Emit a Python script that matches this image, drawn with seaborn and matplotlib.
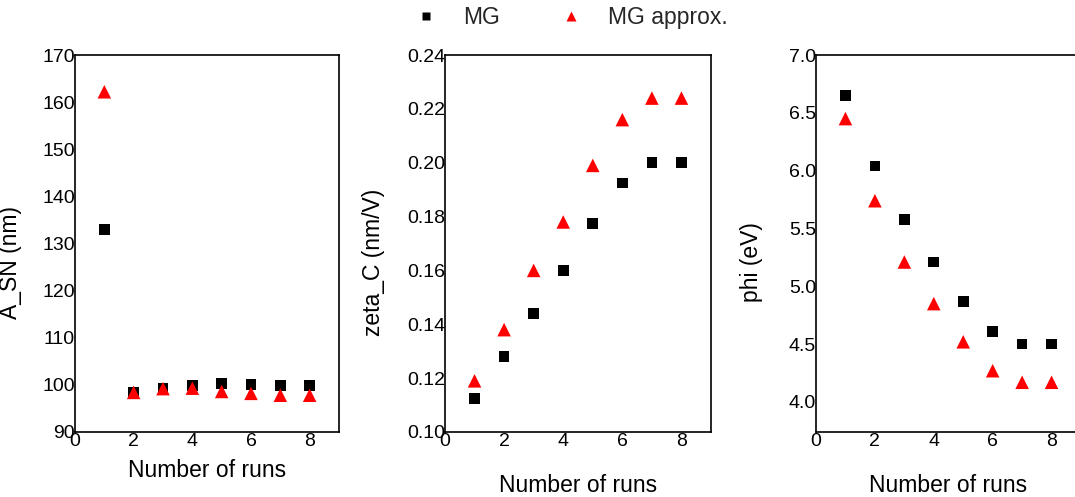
import pandas as pd
import matplotlib.pyplot as plt
import seaborn as sns

# valores
runs = [1, 2, 3, 4, 5, 6, 7, 8]
series = ['MG', 'MG approx.']

a_sn_mg = [132.9, 98.5, 99.3, 99.9, 100.3, 100.1, 99.9, 99.9]
a_sn_approx = [162.2, 98.4, 99.2, 99.3, 98.6, 98.2, 97.8, 97.8]

zeta_mg = [0.1125, 0.128, 0.144, 0.160, 0.1775, 0.1925, 0.200, 0.200]
zeta_approx = [0.119, 0.138, 0.160, 0.178, 0.199, 0.216, 0.224, 0.224]

phi_mg = [6.65, 6.04, 5.58, 5.21, 4.87, 4.61, 4.50, 4.50]
phi_approx = [6.45, 5.74, 5.21, 4.85, 4.52, 4.27, 4.17, 4.17]

ylabels = ['A_SN (nm)', 'zeta_C (nm/V)', 'phi (eV)']
ylims = [(90, 170), (0.10, 0.24), (3.74, 7.0)]
yticks = [list(range(90, 171, 10)),
          [0.10, 0.12, 0.14, 0.16, 0.18, 0.20, 0.22, 0.24],
          [4.0, 4.5, 5.0, 5.5, 6.0, 6.5, 7.0]]
yfmt = ['{:.0f}', '{:.2f}', '{:.1f}']

def armar(mg, approx):
    return pd.DataFrame({
        'run': runs + runs,
        'valor': mg + approx,
        'metodo': [series[0]] * len(runs) + [series[1]] * len(runs),
    })

datos = [armar(a_sn_mg, a_sn_approx), armar(zeta_mg, zeta_approx), armar(phi_mg, phi_approx)]

sns.set_theme(style='white')
plt.rcParams['font.family'] = ['Liberation Sans', 'DejaVu Sans']

W, H = 1075, 497
fig = plt.figure(figsize=(W / 100, H / 100), dpi=100)

# posiciones en pixeles (izq, abajo, ancho, alto)
cajas = [(75, 65, 264, 377), (445, 65, 266, 377), (816, 65, 265, 377)]
xlabel_y = [-0.072, -0.112, -0.112]
ylabel_x = [-0.20, -0.226, -0.20]

for i, (caja, df) in enumerate(zip(cajas, datos)):
    l, b, w, h = caja
    ax = fig.add_axes([l / W, b / H, w / W, h / H])
    sns.scatterplot(data=df, x='run', y='valor', hue='metodo', style='metodo', size='metodo',
                    markers={'MG': 's', 'MG approx.': '^'},
                    palette={'MG': 'black', 'MG approx.': 'red'},
                    sizes={'MG': 60, 'MG approx.': 95},
                    edgecolor='none', ax=ax, legend=(i == 0))
    ax.set_xlim(0, 9)
    ax.set_ylim(*ylims[i])
    ax.set_xticks([0, 2, 4, 6, 8])
    ax.set_yticks(yticks[i])
    ax.set_yticklabels([yfmt[i].format(v) for v in yticks[i]])
    ax.tick_params(length=0, labelsize=14, pad=0, colors='black')
    ax.tick_params(axis='x', pad=1)
    for sp in ax.spines.values():
        sp.set_color('black')
        sp.set_linewidth(1.2)
    ax.set_xlabel('Number of runs', fontsize=16.5, color='black')
    ax.set_ylabel(ylabels[i], fontsize=16.5, color='black')
    ax.xaxis.set_label_coords(0.5, xlabel_y[i])
    ax.yaxis.set_label_coords(ylabel_x[i], 0.45)
    if i == 0:
        handles, labels = ax.get_legend_handles_labels()
        ax.get_legend().remove()

fig.legend(handles, labels, loc='center', bbox_to_anchor=(0.526, 0.965), ncol=2,
           frameon=False, fontsize=16.5, handletextpad=0.6, columnspacing=2.1,
           markerscale=0.8)

plt.savefig('out.png', dpi=100)
plt.close()
